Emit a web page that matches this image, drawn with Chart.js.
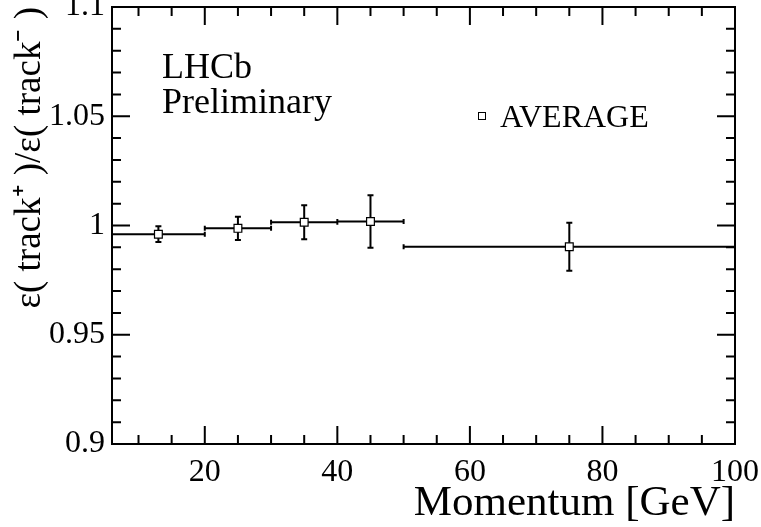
<!DOCTYPE html>
<html>
<head>
<meta charset="utf-8">
<script src="https://cdn.jsdelivr.net/npm/chart.js@4/dist/chart.umd.min.js"></script>
<style>
  html, body { margin: 0; padding: 0; background: #fff; }
  canvas { display: block; }
</style>
</head>
<body>
<canvas id="ratio" width="761" height="527"></canvas>
<script>
// momentum bins and measured charge ratio
var binLow = [6, 20, 30, 40, 50];
var binHigh = [20, 30, 40, 50, 100];
var binCenter = [13, 25, 35, 45, 75];
var ratio = [0.9960, 0.9987, 1.0015, 1.0018, 0.9903];
var ratioErr = [0.0036, 0.0053, 0.0078, 0.0120, 0.0110];

var xTicks = [20, 40, 60, 80, 100];
var yTicks = [0.9, 0.95, 1, 1.05, 1.1];

var serif = "'Liberation Serif', 'Times New Roman', serif";

var points = binCenter.map(function (x, i) { return { x: x, y: ratio[i] }; });

// ROOT-like frame with inward major/minor ticks on all four sides
var framePlugin = {
  id: 'frame',
  afterDraw: function (chart) {
    var ctx = chart.ctx, a = chart.chartArea;
    var xs = chart.scales.x, ys = chart.scales.y;
    ctx.save();
    ctx.strokeStyle = '#000';
    ctx.lineWidth = 2;
    ctx.strokeRect(a.left, a.top, a.right - a.left, a.bottom - a.top);
    ctx.beginPath();
    // x ticks every 5, major every 20
    for (var v = 5; v <= 100.001; v += 5) {
      if (v < xs.min || v > xs.max) continue;
      var px = xs.getPixelForValue(v);
      var len = (Math.abs(v % 20) < 1e-6) ? 18 : 9;
      ctx.moveTo(px, a.bottom); ctx.lineTo(px, a.bottom - len);
      ctx.moveTo(px, a.top); ctx.lineTo(px, a.top + len);
    }
    // y ticks every 0.01, major every 0.05
    for (var k = 0; k <= 20; k++) {
      var yv = 0.9 + k * 0.01;
      var py = ys.getPixelForValue(yv);
      var ylen = (k % 5 === 0) ? 18 : 9;
      ctx.moveTo(a.left, py); ctx.lineTo(a.left + ylen, py);
      ctx.moveTo(a.right, py); ctx.lineTo(a.right - ylen, py);
    }
    ctx.stroke();

    // text labels
    ctx.fillStyle = '#000';
    ctx.textBaseline = 'alphabetic';
    ctx.textAlign = 'left';
    ctx.font = '36px ' + serif;
    ctx.fillText('LHCb', a.left + 50, a.top + 71);
    ctx.fillText('Preliminary', a.left + 50, a.top + 106);

    // legend
    var lx = a.left + 370, ly = a.top + 109;
    ctx.lineWidth = 1;
    ctx.fillStyle = '#fff';
    ctx.fillRect(lx - 3.5, ly - 3.5, 7, 7);
    ctx.strokeRect(lx - 3.5, ly - 3.5, 7, 7);
    ctx.fillStyle = '#000';
    ctx.font = '32px ' + serif;
    ctx.textBaseline = 'alphabetic';
    ctx.fillText('AVERAGE', lx + 18, ly + 11);
    ctx.restore();
  }
};

// horizontal (bin width) and vertical (stat) error bars
var errorBarPlugin = {
  id: 'errorBars',
  beforeDatasetsDraw: function (chart) {
    var ctx = chart.ctx, a = chart.chartArea;
    var xs = chart.scales.x, ys = chart.scales.y;
    ctx.save();
    ctx.beginPath();
    ctx.rect(a.left, a.top, a.right - a.left, a.bottom - a.top);
    ctx.clip();
    ctx.strokeStyle = '#000';
    ctx.lineWidth = 2;
    ctx.beginPath();
    for (var i = 0; i < ratio.length; i++) {
      var y = ys.getPixelForValue(ratio[i]);
      var x = xs.getPixelForValue(binCenter[i]);
      var x0 = xs.getPixelForValue(binLow[i]);
      var x1 = xs.getPixelForValue(binHigh[i]);
      var y0 = ys.getPixelForValue(ratio[i] - ratioErr[i]);
      var y1 = ys.getPixelForValue(ratio[i] + ratioErr[i]);
      ctx.moveTo(x0, y); ctx.lineTo(x1, y);
      ctx.moveTo(x0, y - 2.5); ctx.lineTo(x0, y + 2.5);
      ctx.moveTo(x1, y - 2.5); ctx.lineTo(x1, y + 2.5);
      ctx.moveTo(x, y0); ctx.lineTo(x, y1);
      ctx.moveTo(x - 3, y0); ctx.lineTo(x + 3, y0);
      ctx.moveTo(x - 3, y1); ctx.lineTo(x + 3, y1);
    }
    ctx.stroke();
    ctx.restore();
  }
};

var context = document.getElementById('ratio');
var chart = new Chart(context, {
  type: 'scatter',
  data: {
    datasets: [{
      label: 'AVERAGE',
      data: points,
      pointStyle: 'rect',
      pointRadius: 5.5,
      pointHoverRadius: 5.5,
      pointBackgroundColor: '#fff',
      pointBorderColor: '#000',
      pointBorderWidth: 1.2
    }]
  },
  options: {
    responsive: false,
    maintainAspectRatio: false,
    animation: false,
    devicePixelRatio: 1,
    layout: { padding: { left: 0, right: 26, top: 7, bottom: 0 } },
    plugins: { legend: { display: false }, tooltip: { enabled: false } },
    scales: {
      x: {
        type: 'linear',
        min: 6,
        max: 100,
        grid: { display: false, drawTicks: false },
        border: { display: false },
        afterBuildTicks: function (s) { s.ticks = xTicks.map(function (v) { return { value: v }; }); },
        afterFit: function (s) { s.height = 83; s.paddingLeft = 0; s.paddingRight = 0; },
        ticks: {
          color: '#000',
          padding: 9,
          maxRotation: 0,
          font: { family: serif, size: 32 },
          callback: function (v) { return String(v); }
        },
        title: {
          display: true,
          text: 'Momentum [GeV]',
          align: 'end',
          color: '#000',
          padding: { top: 0, bottom: -3 },
          font: { family: serif, size: 43 }
        }
      },
      y: {
        type: 'linear',
        min: 0.9,
        max: 1.1,
        grid: { display: false, drawTicks: false },
        border: { display: false },
        afterBuildTicks: function (s) { s.ticks = yTicks.map(function (v) { return { value: v }; }); },
        afterFit: function (s) { s.width = 112; s.paddingTop = 0; s.paddingBottom = 0; },
        ticks: {
          color: '#000',
          padding: 7,
          font: { family: serif, size: 32 },
          callback: function (v) { return String(v); }
        },
        title: {
          display: true,
          text: 'ε( track⁺ )/ε( track⁻ )',
          align: 'end',
          color: '#000',
          padding: { top: 8, bottom: 0 },
          font: { family: serif, size: 37 }
        }
      }
    }
  },
  plugins: [errorBarPlugin, framePlugin]
});
</script>
</body>
</html>
